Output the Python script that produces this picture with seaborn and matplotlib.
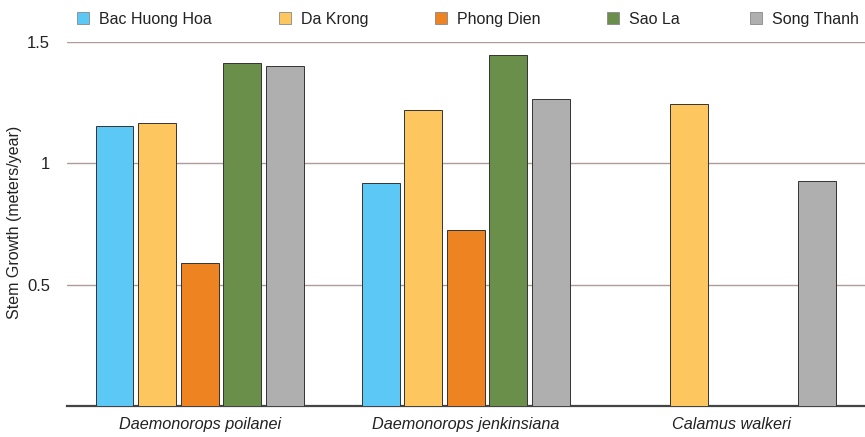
import matplotlib
matplotlib.use("Agg")
import matplotlib.pyplot as plt
import seaborn as sns
import pandas as pd
from matplotlib.ticker import FuncFormatter
from matplotlib.patches import Rectangle

species = ["Daemonorops poilanei", "Daemonorops jenkinsiana", "Calamus walkeri"]
sites = ["Bac Huong Hoa", "Da Krong", "Phong Dien", "Sao La", "Song Thanh"]
colors = ["#5BC8F5", "#FDC65E", "#EE8421", "#6A8F4B", "#AFAFAF"]

poilanei = [1.155, 1.166, 0.59, 1.413, 1.399]
jenkinsiana = [0.917, 1.218, 0.727, 1.445, 1.265]
walkeri = [None, 1.246, None, None, 0.928]

rows = []
for sp, vals in zip(species, [poilanei, jenkinsiana, walkeri]):
    for site, v in zip(sites, vals):
        if v is not None:
            rows.append({"species": sp, "site": site, "growth": v})
df = pd.DataFrame(rows)

sns.set_theme(style="white")
plt.rcParams["font.family"] = ["Liberation Sans", "DejaVu Sans"]

W, H = 865, 437
fig = plt.figure(figsize=(W / 100, H / 100), dpi=100)
ax = fig.add_axes([0.077, 0.071, 0.923, 0.833])

sns.barplot(data=df, x="species", y="growth", hue="site", order=species,
            hue_order=sites, palette=colors, width=0.8, gap=0.11,
            edgecolor="#333333", linewidth=0.7, saturation=1, ax=ax,
            legend=False, zorder=3)

ax.set_xlim(-0.5, 2.5)
ax.set_ylim(0, 1.5)
ax.set_yticks([0.5, 1.0, 1.5])
ax.yaxis.set_major_formatter(FuncFormatter(lambda v, p: f"{v:g}"))
ax.grid(axis="y", color="#AE9C9A", linewidth=1.0, zorder=0)
ax.set_axisbelow(True)
for s in ["top", "right", "left"]:
    ax.spines[s].set_visible(False)
ax.spines["bottom"].set_color("#444444")
ax.spines["bottom"].set_linewidth(1.6)
ax.tick_params(axis="y", length=0, labelsize=12, pad=12, colors="#222222")
ax.tick_params(axis="x", length=0, labelsize=11.7, pad=8, colors="#222222")
for lab in ax.get_xticklabels():
    lab.set_fontstyle("italic")
ax.set_xlabel("")
ax.set_ylabel("")
fig.text(15 / W, 0.5 + (H / 2 - 222) / H, "Stem Growth (meters/year)", rotation=90,
         fontsize=11.5, color="#222222", ha="center", va="center")

# legend drawn as a row of swatches and labels above the plot
legend_x = [77, 279, 435, 607, 750]
yc = 18
for x0, c, name in zip(legend_x, colors, sites):
    fig.patches.append(Rectangle((x0 / W, 1 - (yc + 6) / H), 12 / W, 12 / H,
                                 transform=fig.transFigure, facecolor=c,
                                 edgecolor="#888888", linewidth=0.6))
    fig.text((x0 + 22) / W, 1 - yc / H, name, fontsize=11.5, color="#222222",
             ha="left", va="center_baseline")

fig.savefig("out.png", dpi=100)
